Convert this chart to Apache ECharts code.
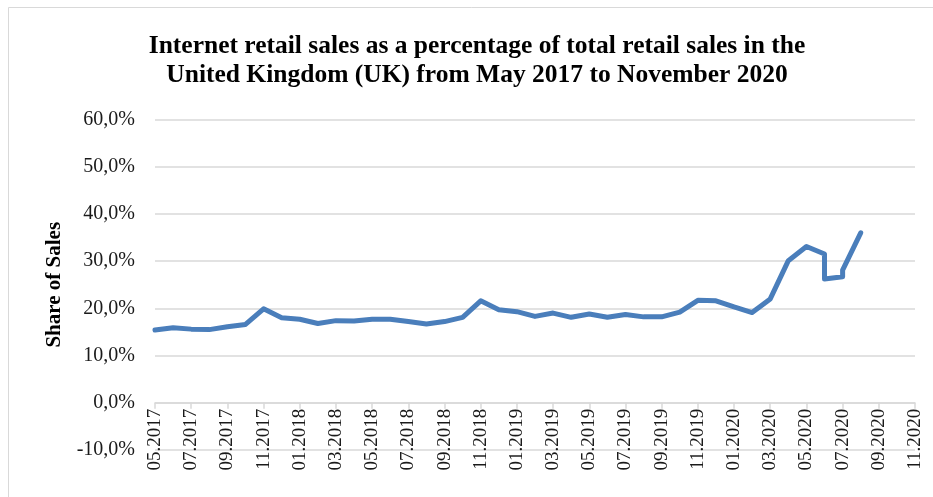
<!DOCTYPE html>
<html>
<head>
<meta charset="utf-8">
<script src="https://cdn.jsdelivr.net/npm/echarts@6/dist/echarts.min.js"></script>
<style>
  html, body { margin: 0; padding: 0; background: #fff; }
  #chart { width: 933px; height: 497px; }
</style>
</head>
<body>
<div id="chart"></div>
<script>
// Monthly observations (MM.YYYY); some months carry two readings
const months = [
  '05.2017','06.2017','07.2017','08.2017','09.2017','10.2017','11.2017','12.2017',
  '01.2018','02.2018','03.2018','04.2018','05.2018','06.2018','07.2018','08.2018',
  '09.2018','10.2018','11.2018','12.2018','01.2019','02.2019','03.2019','04.2019',
  '05.2019','06.2019','07.2019','08.2019','09.2019','10.2019','11.2019','12.2019',
  '01.2020','02.2020','03.2020','04.2020','05.2020','06.2020','06.2020','07.2020',
  '07.2020','08.2020'
];
// Internet share of total retail sales, %
const shares = [
  15.4, 15.9, 15.6, 15.5, 16.1, 16.6, 19.9, 18.0,
  17.7, 16.8, 17.4, 17.3, 17.7, 17.7, 17.2, 16.7,
  17.2, 18.1, 21.6, 19.7, 19.3, 18.3, 19.0, 18.1,
  18.8, 18.1, 18.7, 18.2, 18.2, 19.2, 21.7, 21.6,
  20.3, 19.1, 22.0, 30.1, 33.1, 31.5, 26.2, 26.7,
  28.1, 36.0
];
// Axis labels, one every two months
const tickLabels = [
  '05.2017','07.2017','09.2017','11.2017','01.2018','03.2018','05.2018','07.2018',
  '09.2018','11.2018','01.2019','03.2019','05.2019','07.2019','09.2019','11.2019',
  '01.2020','03.2020','05.2020','07.2020','09.2020','11.2020'
];
const yTicks = [-10, 0, 10, 20, 30, 40, 50, 60];

// month offset from the first label
function monthIndex(s) {
  const [mm, yyyy] = s.split('.').map(Number);
  const [m0, y0] = tickLabels[0].split('.').map(Number);
  return (yyyy - y0) * 12 + (mm - m0);
}

const seriesData = months.map((m, i) => [monthIndex(m), shares[i]]);
const xMax = monthIndex(tickLabels[tickLabels.length - 1]);

// plot box
const gridTop = 119.5, gridBottom = 47, chartH = 497;
const plotH = chartH - gridTop - gridBottom;
const yMin = yTicks[0], yMax = yTicks[yTicks.length - 1];
// lift the category axis (with its labels) up to the 0 % line
const zeroOffset = -plotH * (0 - yMin) / (yMax - yMin);

const serif = '"Liberation Serif", "Times New Roman", serif';
const chart = echarts.init(document.getElementById('chart'), null, { renderer: 'canvas' });

chart.setOption({
  animation: false,
  backgroundColor: '#fff',
  graphic: [{
    type: 'rect',
    shape: { x: 8.5, y: 7.5, width: 1000, height: 1000 },
    style: { fill: 'none', stroke: '#d9d9d9', lineWidth: 1 },
    silent: true
  }],
  title: {
    text: 'Internet retail sales as a percentage of total retail sales in the\nUnited Kingdom (UK) from May 2017 to November 2020',
    left: 472,
    top: 27,
    textAlign: 'center',
    textStyle: {
      fontFamily: serif,
      fontWeight: 'bold',
      fontSize: 25.5,
      lineHeight: 29,
      color: '#000'
    }
  },
  grid: { left: 155, right: 18, top: gridTop, bottom: gridBottom, containLabel: false, outerBoundsMode: 'none' },
  xAxis: {
    type: 'value',
    min: 0,
    max: xMax,
    interval: 2,
    offset: zeroOffset,
    axisLine: { show: true, onZero: false, lineStyle: { color: '#d9d9d9', width: 1.5 } },
    axisTick: { show: true, length: 6, inside: false, lineStyle: { color: '#d9d9d9', width: 1.5 } },
    splitLine: { show: false },
    axisLabel: {
      rotate: 90,
      margin: 6,
      fontFamily: serif,
      fontSize: 19,
      color: '#1a1a1a',
      formatter: v => tickLabels[Math.round(v / 2)] || ''
    }
  },
  yAxis: {
    type: 'value',
    min: yMin,
    max: yMax,
    interval: 10,
    name: 'Share of Sales',
    nameLocation: 'middle',
    nameGap: 90,
    nameRotate: 90,
    nameTextStyle: {
      fontFamily: serif,
      fontWeight: 'bold',
      fontSize: 21,
      color: '#000'
    },
    axisLine: { show: false },
    axisTick: { show: false },
    splitLine: { show: true, lineStyle: { color: '#d9d9d9', width: 1.5 } },
    axisLabel: {
      margin: 20,
      fontFamily: serif,
      fontSize: 20,
      color: '#1a1a1a',
      formatter: v => v.toFixed(1).replace('.', ',') + '%'
    }
  },
  series: [{
    type: 'line',
    data: seriesData,
    showSymbol: false,
    symbol: 'none',
    lineStyle: { color: '#4a7ebb', width: 5, join: 'round', cap: 'round' },
    z: 3
  }]
});
</script>
</body>
</html>
